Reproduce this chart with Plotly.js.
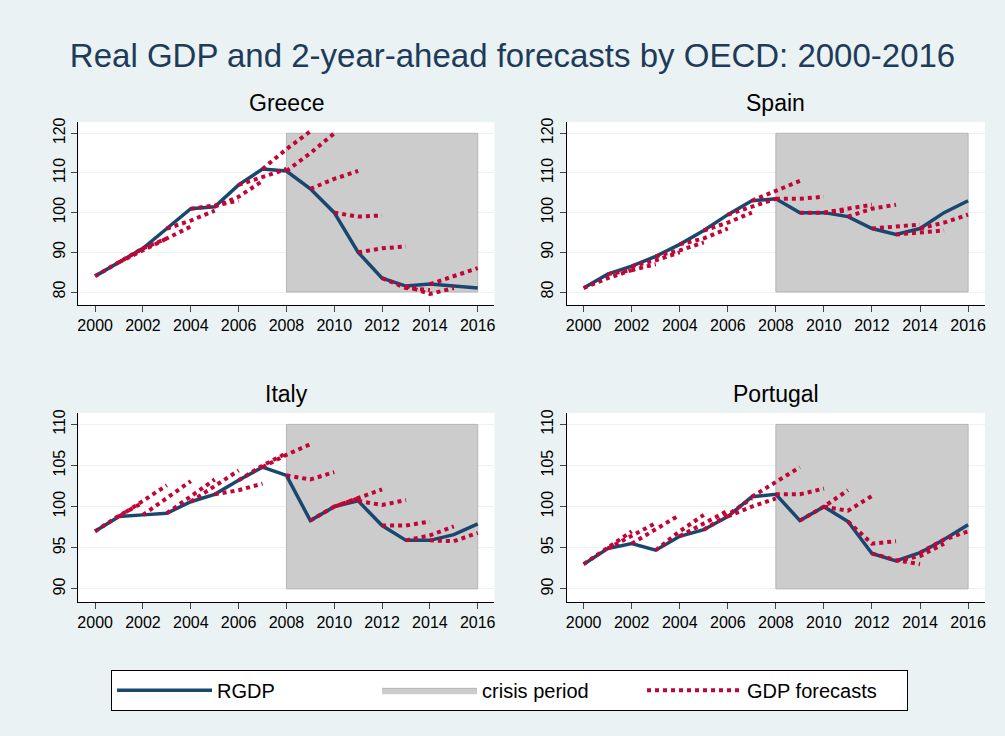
<!DOCTYPE html>
<html>
<head>
<meta charset="utf-8">
<script src="https://cdn.plot.ly/plotly-3.0.1.min.js"></script>
<style>body{margin:0;background:#eaf2f3}</style>
</head>
<body>
<div id="chart" style="width:1005px;height:736px"></div>
<script>
var years = [2000,2001,2002,2003,2004,2005,2006,2007,2008,2009,2010,2011,2012,2013,2014,2015,2016];
var crisisStart = 2008, crisisEnd = 2016;

var countries = ['Greece','Spain','Italy','Portugal'];

var rgdpGreece   = [84,87.5,91,96,101,101.5,107,111,110.5,106,100,90,83.5,81.5,82,81.5,81];
var rgdpSpain    = [81,84.5,86.5,89,92,95.5,99.5,103,103.5,100,100,99,96,94.5,96,100,103];
var rgdpItaly    = [97,98.8,99,99.2,100.6,101.5,103.2,104.8,103.8,98.3,100,100.7,97.7,95.9,95.9,96.6,97.9];
var rgdpPortugal = [93,94.9,95.5,94.7,96.4,97.2,98.8,101.2,101.5,98.3,100,98.2,94.3,93.4,94.4,96,97.8];

// 2-year-ahead forecasts: [start year, value t, t+1, t+2]
var fcGreece = [
  [2000,84,87.5,91],[2001,87.5,90.5,93.5],[2002,91,93.5,96.5],[2003,96,98,100.5],
  [2004,101,101.8,103],[2005,101.5,104,108],[2006,107,109,111],[2007,111,116,120.5],
  [2008,110.5,115,120],[2009,106,108.5,110.5],[2010,100,99,99.3],[2011,90,91,91.5],
  [2012,83.5,81,80.5],[2013,81.5,79.5,81],[2014,82,84,86]
];
var fcSpain = [
  [2000,81,83.5,85.5],[2001,84.5,85.5,87],[2002,86.5,88,90],[2003,89,90.5,92.5],
  [2004,92,93.5,96],[2005,95.5,97.5,100],[2006,99.5,101.5,103.5],[2007,103,105.5,108],
  [2008,103.5,103.5,104],[2009,100,100,100.5],[2010,100,101,102],[2011,99,101,102],
  [2012,96,96.5,97],[2013,94.5,95,95.5],[2014,96,97.5,99.5]
];
var fcItaly = [
  [2000,97,98.9,100.5],[2001,98.8,100.7,102.6],[2002,99,101,103.1],[2003,99.2,101.2,103.3],
  [2004,100.6,102.5,104.4],[2005,101.5,102,102.8],[2006,103.2,105,106.5],[2007,104.8,106.3,107.6],
  [2008,103.8,103.3,104.2],[2009,98.3,100,101],[2010,100,101,102.1],[2011,100.7,100.2,100.8],
  [2012,97.7,97.7,98.2],[2013,95.9,96.5,97.6],[2014,95.9,95.8,96.8]
];
var fcPortugal = [
  [2000,93,95,97],[2001,94.9,96.5,98],[2002,95.5,97.3,99],[2003,94.7,97,99],
  [2004,96.4,98,99.5],[2005,97.2,99,101],[2006,98.8,100,101],[2007,101.2,103,104.8],
  [2008,101.5,101.5,102.2],[2009,98.3,100,102],[2010,100,99.5,101.3],[2011,98.2,95.5,95.8],
  [2012,94.3,93.5,93],[2013,93.4,94,95.5],[2014,94.4,96,97]
];

var yRanges = [[80,120],[80,120],[90,110],[90,110]];
var yTicks  = [[80,90,100,110,120],[80,90,100,110,120],[90,95,100,105,110],[90,95,100,105,110]];
var rgdp = [rgdpGreece, rgdpSpain, rgdpItaly, rgdpPortugal];
var fc = [fcGreece, fcSpain, fcItaly, fcPortugal];

var xDom = [[0.078,0.492],[0.564,0.98],[0.078,0.492],[0.564,0.98]];
var yDom = [[0.586,0.834],[0.586,0.834],[0.182,0.439],[0.182,0.439]];

var data = [], layout = {
  paper_bgcolor:'#eaf2f3', plot_bgcolor:'#ffffff',
  margin:{l:0,r:0,t:0,b:0},
  font:{family:'Liberation Sans, Arial, sans-serif', color:'#000'},
  title:{text:'Real GDP and 2-year-ahead forecasts by OECD: 2000-2016', x:0.51, y:0.94, xanchor:'center',
         font:{size:33,color:'#1e3b59'}},
  showlegend:true,
  legend:{orientation:'h', x:0.507, xanchor:'center', y:0.062, yanchor:'middle',
          bgcolor:'#ffffff', bordercolor:'#000', borderwidth:1, font:{size:20},
          itemwidth:95, entrywidth:155, tracegroupgap:0},
  annotations:[]
};

for (var i = 0; i < 4; i++) {
  var s = i === 0 ? '' : String(i+1);
  var xa = 'x'+s, ya = 'y'+s;
  var r = yRanges[i];
  data.push({x:[crisisStart,crisisEnd,crisisEnd,crisisStart,crisisStart], y:[r[0],r[0],r[1],r[1],r[0]],
    xaxis:xa, yaxis:ya, mode:'lines', fill:'toself', fillcolor:'#cccccc',
    line:{color:'#b5b5b5',width:1}, name:'crisis period', showlegend:i===0, legendrank:2, hoverinfo:'skip'});
  var fx = [], fy = [];
  fc[i].forEach(function(f){ fx.push(f[0],f[0]+1,f[0]+2,null); fy.push(f[1],f[2],f[3],null); });
  data.push({x:years, y:rgdp[i], xaxis:xa, yaxis:ya, mode:'lines', name:'RGDP',
    line:{color:'#1a476f',width:3.5}, showlegend:i===0, legendrank:1});
  data.push({x:fx, y:fy, xaxis:xa, yaxis:ya, mode:'lines', name:'GDP forecasts', connectgaps:false,
    line:{color:'#c10534',width:4,dash:'dot'}, showlegend:i===0, legendrank:3});

  layout['xaxis'+s] = {domain:xDom[i], anchor:ya, range:[1999.3,2016.7], tickvals:[2000,2002,2004,2006,2008,2010,2012,2014,2016],
    showline:true, linecolor:'#000', ticks:'outside', ticklen:6, showgrid:false, zeroline:false, tickfont:{size:16}};
  layout['yaxis'+s] = {domain:yDom[i], anchor:xa, range:[r[0]-(r[1]-r[0])*0.08, r[1]+(r[1]-r[0])*0.07], tickvals:yTicks[i],
    showline:true, linecolor:'#000', ticks:'outside', ticklen:6, tickangle:-90, gridcolor:'#eaf2f3', zeroline:false, tickfont:{size:16}};
  layout.annotations.push({text:countries[i], xref:'paper', yref:'paper', x:(xDom[i][0]+xDom[i][1])/2, y:yDom[i][1]+0.005,
    xanchor:'center', yanchor:'bottom', showarrow:false, font:{size:23,color:'#000'}});
}

Plotly.newPlot('chart', data, layout, {displayModeBar:false});
</script>
</body>
</html>
